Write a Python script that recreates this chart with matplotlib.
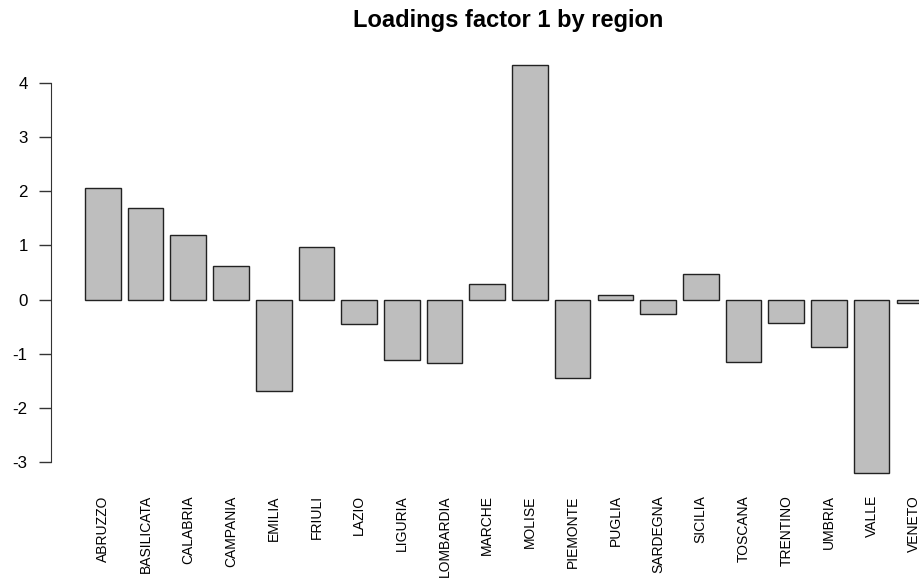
"""
Loadings of factor 1 by region, R barplot look
"""

import matplotlib
matplotlib.use('Agg')
import matplotlib.pyplot as plt

##data
regions = ['ABRUZZO', 'BASILICATA', 'CALABRIA', 'CAMPANIA', 'EMILIA', 'FRIULI',
           'LAZIO', 'LIGURIA', 'LOMBARDIA', 'MARCHE', 'MOLISE', 'PIEMONTE',
           'PUGLIA', 'SARDEGNA', 'SICILIA', 'TOSCANA', 'TRENTINO', 'UMBRIA',
           'VALLE', 'VENETO']
loadings = [2.06, 1.70, 1.19, 0.62, -1.68, 0.98, -0.44, -1.11, -1.16, 0.29,
            4.32, -1.44, 0.09, -0.26, 0.48, -1.14, -0.42, -0.88, -3.20, -0.055]
yticks = [-3, -2, -1, 0, 1, 2, 3, 4]

plt.rcParams['font.family'] = ['Liberation Sans', 'DejaVu Sans']

fig = plt.figure(figsize=(9.2, 5.79), dpi=100)
##plot region runs past the right edge like the original
plot = fig.add_axes([0.0557, 0.1544, 0.9943, 0.7608])

###bars R style: width 1, space 0.2
centers = [0.7 + 1.2 * i for i in range(len(regions))]
plot.bar(centers, loadings, width=1.0, color='#bebebe', edgecolor='#222222',
         linewidth=1.0)

plot.set_xlim(-0.75, 24.95)
plot.set_ylim(-3.5, 4.62)

###axes
for side in ['top', 'right', 'bottom']:
    plot.spines[side].set_visible(False)
plot.spines['left'].set_bounds(-3, 4)
plot.spines['left'].set_color('#333333')
plot.set_yticks(yticks)
plot.set_yticklabels([str(t) for t in yticks])
plot.tick_params(axis='y', length=8.5, width=1, color='#333333', pad=8.5,
                 labelsize=12.2)
plot.set_xticks(centers)
plot.set_xticklabels(regions, rotation=90, fontsize=10)
plot.tick_params(axis='x', length=0, pad=4)

###title centred on the plot region (as R does)
fig.text(0.0557 + 0.9943 / 2, 1 - 27 / 579., 'Loadings factor 1 by region',
         fontsize=17, fontweight='bold', ha='center', va='baseline')

plt.savefig('out.png', dpi=100)
